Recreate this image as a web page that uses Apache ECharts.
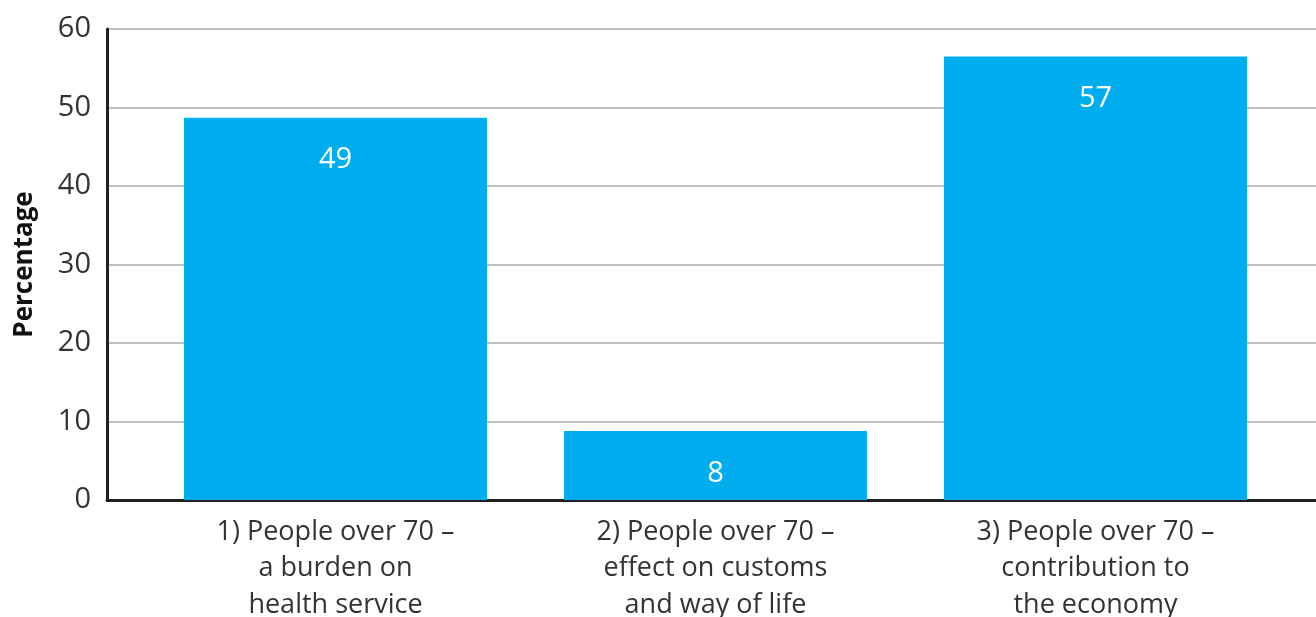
<!DOCTYPE html>
<html><head><meta charset="utf-8">
<script src="https://cdn.jsdelivr.net/npm/echarts@6/dist/echarts.min.js"></script>
<style>html,body{margin:0;padding:0;background:#fff}#c{width:1316px;height:617px}</style>
</head><body><div id="c"></div>
<script>
const categories = ["1) People over 70 –\na burden on\nhealth service", "2) People over 70 –\neffect on customs\nand way of life", "3) People over 70 –\ncontribution to\nthe economy"];
const values = [48.7, 8.8, 56.5];
const valueLabels = ["49", "8", "57"];
const yTicks = [0, 10, 20, 30, 40, 50, 60];
const FONT = "'Open Sans', sans-serif";
const chart = echarts.init(document.getElementById('c'));
const yMin = yTicks[0], yMax = yTicks[yTicks.length-1];
chart.setOption({
  animation: false,
  grid: [
    {left: 107, right: 0, top: 29, bottom: 117, outerBoundsMode: 'none', containLabel: false},
    {left: 145.5, right: 30.5, top: 29, bottom: 117, outerBoundsMode: 'none', containLabel: false}
  ],
  xAxis: [{
    gridIndex: 0, type: 'category', data: ['', '', ''],
    axisLine: {lineStyle: {color: '#231f20', width: 3}},
    axisTick: {show: false}, axisLabel: {show: false}, splitLine: {show: false}
  }, {
    gridIndex: 1, type: 'category', data: categories,
    axisLine: {show: false},
    axisTick: {show: false},
    axisLabel: {fontFamily: FONT, fontSize: 27, color: '#333', lineHeight: 36.5, margin: 14, interval: 0}
  }],
  yAxis: [{
    gridIndex: 0, type: 'value', min: yMin, max: yMax, interval: 10,
    name: 'Percentage', nameLocation: 'middle', nameGap: 69, nameRotate: 90,
    nameTextStyle: {fontFamily: FONT, fontSize: 26, fontWeight: 'bold', color: '#111'},
    axisLine: {show: true, lineStyle: {color: '#231f20', width: 3}},
    axisTick: {show: false},
    axisLabel: {fontFamily: FONT, fontSize: 29, color: '#333', margin: 16},
    splitLine: {lineStyle: {color: '#aaaaaa', width: 1.5}}
  }, {
    gridIndex: 1, type: 'value', min: yMin, max: yMax, interval: 10,
    axisLine: {show: false}, axisTick: {show: false}, axisLabel: {show: false}, splitLine: {show: false}
  }],
  series: [{
    type: 'bar', xAxisIndex: 1, yAxisIndex: 1, data: values, barWidth: 303,
    itemStyle: {color: '#00aeef'},
    label: {show: true, position: 'insideTop', distance: 28, color: '#fff', fontFamily: FONT, fontSize: 29,
      formatter: p => valueLabels[p.dataIndex]}
  }]
});
</script></body></html>
